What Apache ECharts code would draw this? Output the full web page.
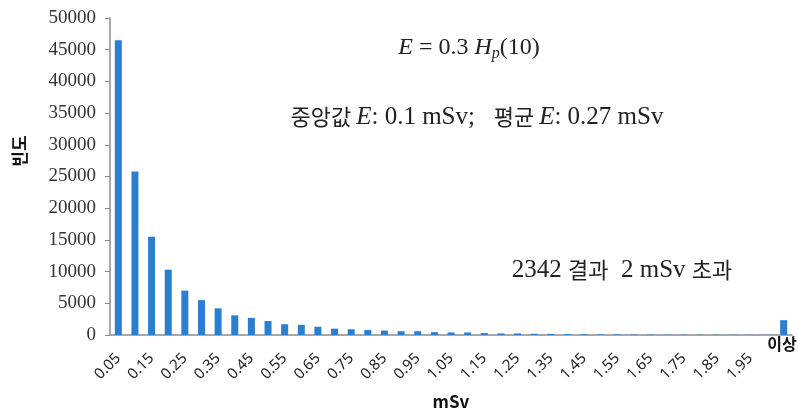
<!DOCTYPE html>
<html>
<head>
<meta charset="utf-8">
<script src="https://cdn.jsdelivr.net/npm/echarts@6/dist/echarts.min.js"></script>
<style>
  html, body { margin: 0; padding: 0; background: #fff; }
  #chart { width: 798px; height: 415px; }
</style>
</head>
<body>
<div id="chart"></div>
<script>
// Dose bins (mSv upper edges) and the overflow bin
const doseBins = ['0.05','0.10','0.15','0.20','0.25','0.30','0.35','0.40','0.45','0.50',
  '0.55','0.60','0.65','0.70','0.75','0.80','0.85','0.90','0.95','1.00',
  '1.05','1.10','1.15','1.20','1.25','1.30','1.35','1.40','1.45','1.50',
  '1.55','1.60','1.65','1.70','1.75','1.80','1.85','1.90','1.95','2.00','이상'];
// Frequency per bin
const frequency = [46500, 25800, 15500, 10300, 7000, 5500, 4200, 3100, 2700, 2200,
  1700, 1600, 1300, 1000, 900, 800, 700, 600, 600, 450,
  400, 400, 300, 250, 250, 200, 180, 150, 120, 100,
  90, 80, 70, 60, 50, 45, 40, 35, 30, 30, 2342];
const yTicks = { min: 0, max: 50000, step: 5000 };
const overflowLabel = '이상';

const chart = echarts.init(document.getElementById('chart'));
const serif = '"Liberation Serif", "Times New Roman", serif';
const kr = '"Noto Sans CJK KR", sans-serif';

chart.setOption({
  animation: false,
  grid: { left: 110, right: 6, top: 18, bottom: 80 },
  xAxis: {
    type: 'category',
    data: doseBins,
    name: 'mSv',
    nameLocation: 'middle',
    nameGap: 58,
    nameTextStyle: { fontFamily: kr, fontWeight: 'bold', fontSize: 17, color: '#111' },
    axisLine: { lineStyle: { color: '#8c8c8c', width: 1.5 } },
    axisTick: { interval: 0, length: 5, lineStyle: { color: '#8c8c8c' } },
    axisLabel: {
      interval: 1,
      rotate: 45,
      margin: 21,
      padding: [32, 0, 0, 0],
      fontFamily: '"Noto Sans", sans-serif',
      fontSize: 15,
      color: '#222',
      formatter: v => (v === overflowLabel ? '' : v)
    }
  },
  yAxis: {
    type: 'value',
    min: yTicks.min,
    max: yTicks.max,
    interval: yTicks.step,
    axisLine: { show: true, lineStyle: { color: '#8c8c8c', width: 1.5 } },
    axisTick: { show: true, length: 5, lineStyle: { color: '#8c8c8c' } },
    splitLine: { show: false },
    axisLabel: {
      fontFamily: serif, fontSize: 19, color: '#333', margin: 14,
      formatter: v => String(v)
    }
  },
  series: [{
    type: 'bar',
    data: frequency,
    barWidth: 7,
    itemStyle: { color: '#2b7fd2' }
  }]
});

// Overflow bin label drawn upright under its bar
const lastPos = chart.convertToPixel({ xAxisIndex: 0, yAxisIndex: 0 }, [overflowLabel, 0]);

chart.setOption({
  graphic: [
    {
      type: 'text',
      x: 20, y: 151,
      rotation: Math.PI / 2,
      style: {
        text: '빈도',
        font: 'bold 17px ' + kr,
        fill: '#111',
        align: 'center', verticalAlign: 'middle'
      }
    },
    {
      type: 'text',
      x: lastPos[0] + 13, y: lastPos[1] + 9,
      style: {
        text: overflowLabel,
        font: 'bold 16px ' + kr,
        fill: '#111',
        align: 'right', verticalAlign: 'middle'
      }
    },
    {
      type: 'text',
      x: 469, y: 48,
      style: {
        text: '{i|E}{n| = 0.3 }{i|H}{s|p}{n|(10)}',
        align: 'center', verticalAlign: 'middle',
        rich: {
          i: { font: 'italic 24px ' + serif, fill: '#222', verticalAlign: 'middle', lineHeight: 28 },
          n: { font: '24px ' + serif, fill: '#222', verticalAlign: 'middle', lineHeight: 28 },
          s: { font: 'italic 16px ' + serif, fill: '#222', verticalAlign: 'bottom', lineHeight: 12 }
        }
      }
    },
    {
      type: 'text',
      x: 477, y: 117,
      style: {
        text: '{k|중앙값 }{i|E}{n|: 0.1 mSv;   }{k|평균 }{i|E}{n|: 0.27 mSv}',
        align: 'center', verticalAlign: 'middle',
        rich: {
          k: { font: '22px ' + kr, fill: '#222', verticalAlign: 'middle', lineHeight: 28 },
          i: { font: 'italic 25px ' + serif, fill: '#222', verticalAlign: 'middle', lineHeight: 28 },
          n: { font: '25px ' + serif, fill: '#222', verticalAlign: 'middle', lineHeight: 28 }
        }
      }
    },
    {
      type: 'text',
      x: 622, y: 270,
      style: {
        text: '{n|2342 }{k|결과}{n|  2 mSv }{k|초과}',
        align: 'center', verticalAlign: 'middle',
        rich: {
          k: { font: '22px ' + kr, fill: '#222', verticalAlign: 'middle', lineHeight: 28 },
          n: { font: '25px ' + serif, fill: '#222', verticalAlign: 'middle', lineHeight: 28 }
        }
      }
    }
  ]
});
</script>
</body>
</html>
